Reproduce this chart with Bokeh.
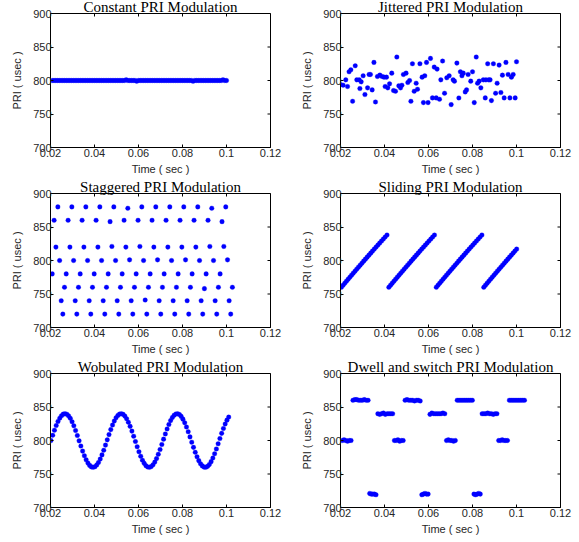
import math
from bokeh.plotting import figure
from bokeh.layouts import gridplot
from bokeh.models import Range1d, FixedTicker, NumeralTickFormatter
from bokeh.embed import file_html
from bokeh.resources import INLINE

# ---------------- data ----------------
X_TICKS = [0.02, 0.04, 0.06, 0.08, 0.1, 0.12]
Y_TICKS = [700, 750, 800, 850, 900]
TITLES = ["Constant PRI Modulation", "Jittered PRI Modulation",
          "Staggered PRI Modulation", "Sliding PRI Modulation",
          "Wobulated PRI Modulation", "Dwell and switch PRI Modulation"]
X_LABEL = "Time ( sec )"
Y_LABEL = "PRI ( usec )"

# constant (time in ms)
const_t = [20.8, 21.6, 22.4, 23.2, 24.0, 24.8, 25.6, 26.4, 27.2, 28.0,
           28.8, 29.6, 30.4, 31.2, 32.0, 32.8, 33.6, 34.4, 35.2, 36.0,
           36.8, 37.6, 38.4, 39.2, 40.0, 40.8, 41.6, 42.4, 43.2, 44.0,
           44.8, 45.6, 46.4, 47.2, 48.0, 48.8, 49.6, 50.4, 51.2, 52.0,
           52.8, 53.6, 54.4, 55.2, 56.0, 56.8, 57.6, 58.4, 59.2, 60.0,
           60.8, 61.6, 62.4, 63.2, 64.0, 64.8, 65.6, 66.4, 67.2, 68.0,
           68.8, 69.6, 70.4, 71.2, 72.0, 72.8, 73.6, 74.4, 75.2, 76.0,
           76.8, 77.6, 78.4, 79.2, 80.0, 80.8, 81.6, 82.4, 83.2, 84.0,
           84.8, 85.6, 86.4, 87.2, 88.0, 88.8, 89.6, 90.4, 91.2, 92.0,
           92.8, 93.6, 94.4, 95.2, 96.0, 96.8, 97.6, 98.4, 99.2, 100.0]
const_pri = [800, 800, 800, 800, 800, 800, 800, 800, 800, 800,
             800, 800, 800, 800, 800, 800, 800, 800, 800, 800,
             800, 800, 800, 800, 800, 800, 800, 800, 800, 800,
             800, 800, 800, 800, 800, 800, 800, 800, 800, 800,
             800, 800, 801, 800, 800, 800, 800, 800, 799, 800,
             800, 800, 800, 800, 800, 800, 800, 800, 800, 800,
             800, 800, 800, 800, 800, 800, 800, 800, 800, 800,
             800, 800, 800, 800, 800, 800, 800, 800, 800, 800,
             799, 800, 800, 800, 800, 800, 800, 800, 800, 800,
             800, 800, 800, 800, 800, 800, 800, 801, 800, 800]

# jittered
jit_t = [20.0, 21.2, 22.4, 23.2, 23.9, 24.7, 25.5, 26.7, 27.4, 28.5,
         28.8, 29.4, 30.3, 31.1, 32.3, 33.0, 33.6, 34.4, 35.2, 35.9,
         36.8, 37.9, 38.9, 39.8, 40.3, 40.9, 41.5, 42.3, 43.3, 44.1,
         45.0, 45.6, 46.5, 47.3, 47.9, 48.6, 49.8, 50.6, 51.4, 52.0,
         52.7, 53.5, 54.4, 55.0, 56.1, 57.1, 57.7, 58.3, 59.1, 59.8,
         60.9, 61.8, 62.6, 63.5, 63.9, 65.0, 65.6, 66.4, 67.3, 68.3,
         69.4, 70.3, 71.2, 71.8, 72.9, 73.8, 74.5, 75.2, 75.8, 76.7,
         77.3, 78.0, 79.2, 80.0, 80.8, 81.7, 82.3, 83.0, 83.8, 84.9,
         85.8, 86.1, 86.9, 87.4, 88.0, 88.6, 89.5, 90.5, 91.2, 92.1,
         92.9, 93.6, 94.4, 95.2, 96.2, 97.0, 97.7, 98.5, 99.4, 100.0]
jit_pri = [794, 793, 801, 791, 813, 816, 769, 822, 801, 801,
           788, 798, 807, 779, 789, 809, 809, 786, 827, 768,
           806, 808, 806, 805, 791, 805, 789, 795, 811, 785,
           784, 835, 792, 789, 793, 809, 811, 797, 800, 769,
           825, 784, 796, 787, 825, 805, 767, 807, 827, 767,
           833, 774, 820, 774, 817, 772, 801, 829, 781, 804,
           807, 764, 801, 799, 826, 774, 813, 807, 811, 783,
           786, 809, 799, 813, 767, 835, 796, 799, 789, 801,
           774, 801, 825, 801, 801, 770, 825, 781, 796, 823,
           782, 808, 774, 827, 809, 774, 805, 809, 774, 828]

# staggered
stag_t = [20.78, 21.64, 22.46, 23.34, 24.14, 24.88, 25.60, 26.36,
          27.14, 28.00, 28.82, 29.70, 30.50, 31.24, 31.96, 32.72,
          33.50, 34.36, 35.18, 36.06, 36.86, 37.60, 38.32, 39.08,
          39.86, 40.72, 41.54, 42.42, 43.22, 43.96, 44.68, 45.44,
          46.22, 47.08, 47.90, 48.78, 49.58, 50.32, 51.04, 51.80,
          52.58, 53.44, 54.26, 55.14, 55.94, 56.68, 57.40, 58.16,
          58.94, 59.80, 60.62, 61.50, 62.30, 63.04, 63.76, 64.52,
          65.30, 66.16, 66.98, 67.86, 68.66, 69.40, 70.12, 70.88,
          71.66, 72.52, 73.34, 74.22, 75.02, 75.76, 76.48, 77.24,
          78.02, 78.88, 79.70, 80.58, 81.38, 82.12, 82.84, 83.60,
          84.38, 85.24, 86.06, 86.94, 87.74, 88.48, 89.20, 89.96,
          90.74, 91.60, 92.42, 93.30, 94.10, 94.84, 95.56, 96.32,
          97.10, 97.96, 98.78, 99.66, 100.46, 101.20, 101.92, 102.68]
stag_pri = [780, 860, 820, 880, 800, 740, 720, 760,
            780, 860, 820, 880, 800, 740, 720, 760,
            780, 860, 820, 880, 800, 740, 720, 760,
            780, 860, 820, 880, 800, 740, 720, 760,
            780, 858, 821, 880, 800, 740, 720, 760,
            780, 860, 820, 878, 801, 740, 720, 760,
            780, 860, 821, 880, 800, 741, 720, 760,
            780, 860, 820, 880, 801, 740, 720, 760,
            780, 860, 820, 880, 800, 740, 720, 760,
            780, 860, 820, 880, 801, 740, 720, 760,
            780, 860, 820, 880, 800, 740, 720, 758,
            780, 860, 821, 878, 800, 740, 720, 760,
            780, 858, 821, 880, 801, 740, 720, 760]

# sliding
slide_t = [20.400, 21.160, 21.923, 22.689, 23.458, 24.230, 25.005, 25.783, 26.564,
           27.348, 28.135, 28.925, 29.718, 30.514, 31.313, 32.115, 32.920, 33.728,
           34.539, 35.353, 36.170, 36.990, 37.813, 38.639, 39.468, 40.300, 41.135,
           41.973, 42.733, 43.496, 44.262, 45.031, 45.803, 46.578, 47.356, 48.137,
           48.921, 49.708, 50.498, 51.291, 52.087, 52.886, 53.688, 54.493, 55.301,
           56.112, 56.926, 57.743, 58.563, 59.386, 60.212, 61.041, 61.873, 62.708,
           63.546, 64.306, 65.069, 65.835, 66.604, 67.376, 68.151, 68.929, 69.710,
           70.494, 71.281, 72.071, 72.864, 73.660, 74.459, 75.261, 76.066, 76.874,
           77.685, 78.499, 79.316, 80.136, 80.959, 81.785, 82.614, 83.446, 84.281,
           85.119, 85.879, 86.642, 87.408, 88.177, 88.949, 89.724, 90.502, 91.283,
           92.067, 92.854, 93.644, 94.437, 95.233, 96.032, 96.834, 97.639, 98.447,
           99.258, 100.072]
slide_pri = [760, 763, 766, 769, 772, 775, 778, 781, 784, 787, 790, 793, 796, 799,
             802, 805, 808, 811, 814, 817, 820, 823, 826, 829, 832, 835, 838,
             760, 763, 766, 769, 772, 775, 778, 781, 784, 787, 790, 793, 796, 799,
             802, 805, 808, 811, 814, 817, 820, 823, 826, 829, 832, 835, 838,
             760, 763, 766, 769, 772, 775, 778, 781, 784, 787, 790, 793, 796, 799,
             802, 805, 808, 811, 814, 817, 820, 823, 826, 829, 832, 835, 838,
             760, 763, 766, 769, 772, 775, 778, 781, 784, 787, 790, 793, 796, 799,
             802, 805, 808, 811, 814, 817]

# wobulated
wob_t = [20.2, 21.0, 21.8, 22.6, 23.4, 24.2, 25.0, 25.8, 26.6, 27.4,
         28.2, 29.0, 29.8, 30.6, 31.4, 32.2, 33.0, 33.8, 34.6, 35.4,
         36.2, 37.0, 37.8, 38.6, 39.4, 40.2, 41.0, 41.8, 42.6, 43.4,
         44.2, 45.0, 45.8, 46.6, 47.4, 48.2, 49.0, 49.8, 50.6, 51.4,
         52.2, 53.0, 53.8, 54.6, 55.4, 56.2, 57.0, 57.8, 58.6, 59.4,
         60.2, 61.0, 61.8, 62.6, 63.4, 64.2, 65.0, 65.8, 66.6, 67.4,
         68.2, 69.0, 69.8, 70.6, 71.4, 72.2, 73.0, 73.8, 74.6, 75.4,
         76.2, 77.0, 77.8, 78.6, 79.4, 80.2, 81.0, 81.8, 82.6, 83.4,
         84.2, 85.0, 85.8, 86.6, 87.4, 88.2, 89.0, 89.8, 90.6, 91.4,
         92.2, 93.0, 93.8, 94.6, 95.4, 96.2, 97.0, 97.8, 98.6, 99.4,
         100.2, 101.0]
wob_pri = [800.0, 807.8, 815.4, 822.3, 828.4, 833.3, 837.0, 839.3, 840.0, 839.2,
           836.8, 833.1, 828.0, 821.9, 814.9, 807.4, 799.5, 791.7, 784.2, 777.3,
           771.3, 766.4, 762.8, 760.6, 760.0, 760.9, 763.4, 767.2, 772.3, 778.5,
           785.5, 793.1, 801.0, 808.8, 816.3, 823.1, 829.0, 833.9, 837.4, 839.4,
           840.0, 839.0, 836.4, 832.5, 827.3, 821.1, 814.0, 806.4, 798.5, 790.7,
           783.3, 776.5, 770.6, 765.9, 762.4, 760.5, 760.0, 761.1, 763.8, 767.8,
           773.0, 779.4, 786.5, 794.1, 802.0, 809.8, 817.2, 823.9, 829.7, 834.4,
           837.7, 839.6, 839.9, 838.7, 836.0, 831.9, 826.6, 820.2, 813.1, 805.4,
           797.5, 789.8, 782.4, 775.7, 769.9, 765.4, 762.1, 760.3, 760.1, 761.4,
           764.2, 768.4, 773.8, 780.2, 787.4, 795.1, 802.9, 810.7, 818.0, 824.7,
           830.4, 834.9]

# dwell and switch
dwell_t = [20.80, 21.60, 22.40, 23.20, 24.00, 24.80,
           25.66, 26.52, 27.38, 28.24, 29.10, 29.96, 30.82, 31.68, 32.54,
           33.26, 33.98, 34.70, 35.42, 36.14,
           36.98, 37.82, 38.66, 39.50, 40.34, 41.18, 42.02, 42.86, 43.70,
           44.50, 45.30, 46.10, 46.90, 47.70, 48.50,
           49.36, 50.22, 51.08, 51.94, 52.80, 53.66, 54.52, 55.38, 56.24,
           56.96, 57.68, 58.40, 59.12, 59.84,
           60.68, 61.52, 62.36, 63.20, 64.04, 64.88, 65.72, 66.56, 67.40,
           68.20, 69.00, 69.80, 70.60, 71.40, 72.20,
           73.06, 73.92, 74.78, 75.64, 76.50, 77.36, 78.22, 79.08, 79.94,
           80.66, 81.38, 82.10, 82.82, 83.54,
           84.38, 85.22, 86.06, 86.90, 87.74, 88.58, 89.42, 90.26, 91.10,
           91.90, 92.70, 93.50, 94.30, 95.10, 95.90,
           96.76, 97.62, 98.48, 99.34, 100.20, 101.06, 101.92, 102.78, 103.64]
dwell_pri = [800, 801, 800, 799, 800, 800,
             860, 861, 861, 860, 860, 860, 861, 860, 860,
             721, 720, 720, 720, 719,
             840, 839, 840, 841, 839, 840, 840, 840, 840,
             800, 800, 801, 799, 800, 800,
             860, 861, 860, 860, 860, 859, 860, 860, 859,
             719, 720, 721, 720, 720,
             839, 841, 840, 840, 840, 840, 840, 841, 840,
             800, 801, 800, 800, 799, 800,
             860, 860, 860, 860, 860, 860, 860, 860, 860,
             720, 719, 720, 721, 720,
             840, 840, 840, 841, 840, 840, 839, 840, 840,
             800, 800, 801, 800, 800, 800,
             860, 860, 860, 860, 860, 860, 860, 860, 860]

SERIES = [(const_t, const_pri), (jit_t, jit_pri), (stag_t, stag_pri),
          (slide_t, slide_pri), (wob_t, wob_pri), (dwell_t, dwell_pri)]

SANS = "Liberation Sans"
SERIF = "Liberation Serif"
TXT = "#262626"


def style_axis(ax):
    ax.major_tick_in = 3
    ax.major_tick_out = 0
    ax.minor_tick_in = 0
    ax.minor_tick_out = 0
    ax.axis_line_color = "black"
    ax.axis_line_width = 1
    ax.major_tick_line_color = "black"
    ax.major_label_text_font = SANS
    ax.major_label_text_font_size = "11px"
    ax.major_label_text_color = TXT
    ax.axis_label_text_font = SANS
    ax.axis_label_text_font_size = "11px"
    ax.axis_label_text_font_style = "normal"
    ax.axis_label_text_color = TXT


def make_panel(idx, width, height, bottom):
    xs_ms, ys = SERIES[idx]
    xs = [t / 1000.0 for t in xs_ms]  # ms -> s
    x0, x1, y0, y1 = 0.02, 0.12, 700, 900
    p = figure(width=width, height=height,
               x_range=Range1d(x0, x1), y_range=Range1d(y0, y1),
               output_backend="svg", toolbar_location=None,
               min_border_left=50, min_border_right=width - 270,
               min_border_top=16, min_border_bottom=bottom,
               background_fill_color="white", border_fill_color="white")
    p.title.text = TITLES[idx]
    p.title.text_font = SERIF
    p.title.text_font_size = "15px"
    p.title.text_font_style = "normal"
    p.title.text_color = "black"
    p.title.align = "center"
    p.title.standoff = -2
    p.title.offset = 0

    p.xgrid.grid_line_color = None
    p.ygrid.grid_line_color = None
    p.outline_line_color = "black"
    p.outline_line_width = 1
    p.outline_line_alpha = 1

    p.xaxis.ticker = FixedTicker(ticks=X_TICKS)
    p.xaxis.formatter = NumeralTickFormatter(format="0.0[0]")
    p.yaxis.ticker = FixedTicker(ticks=Y_TICKS)
    style_axis(p.xaxis[0])
    style_axis(p.yaxis[0])
    p.xaxis.major_label_standoff = 1
    p.yaxis.major_label_standoff = -1
    p.xaxis.axis_label = X_LABEL
    p.yaxis.axis_label = Y_LABEL
    p.xaxis.axis_label_standoff = 3
    p.yaxis.axis_label_standoff = 7

    # inward ticks on the top and right frame edges (half of each dash is clipped)
    p.scatter(X_TICKS, [y1] * len(X_TICKS), marker="dash", angle=math.pi / 2,
              size=6, line_color="black", line_width=1)
    p.scatter([x1] * len(Y_TICKS), Y_TICKS, marker="dash",
              size=6, line_color="black", line_width=1)

    p.scatter(xs, ys, marker="circle", size=4.6,
              fill_color="#0000ff", line_color="#0000ff", line_width=0.3)
    return p


panels = []
for i in range(6):
    w = 290 if i % 2 == 0 else 289
    h = 180 if i < 4 else 182
    b = 30 if i < 4 else 32
    panels.append(make_panel(i, w, h, b))

grid = gridplot([[panels[0], panels[1]], [panels[2], panels[3]], [panels[4], panels[5]]],
                toolbar_location=None)
grid.margin = (-3, 0, 0, 0)

open("out.html", "w").write(file_html(grid, INLINE))
